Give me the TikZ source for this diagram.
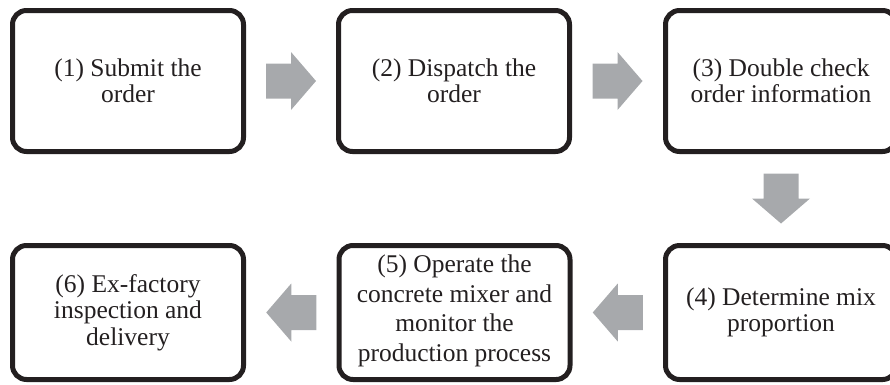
\documentclass[tikz,border=0pt]{standalone}
\usepackage{fontspec}
\setmainfont{Liberation Serif}
\usetikzlibrary{calc}
\definecolor{edge}{HTML}{231F20}
\definecolor{flow}{HTML}{A7A9AC}
\begin{document}
\begin{tikzpicture}[x=1pt,y=-1pt,
  stepbox/.style={draw=edge, line width=5pt, rounded corners=14pt,
    minimum width=231pt, minimum height=141pt, inner sep=0pt,
    align=center, text=edge, font=\fontsize{25.5}{26.5}\selectfont},
  lowbox/.style={stepbox, minimum height=134pt},
  steptext/.style={align=center, text=edge, inner sep=0pt,
    font=\fontsize{25.5}{29.5}\selectfont},
  flowfill/.style={fill=flow, draw=none}]
\useasboundingbox (0,0) rectangle (890,384);
\clip (0,0) rectangle (890,384);

% process steps
\node[stepbox] (b1) at (128,81)   {(1) Submit the\\order};
\node[stepbox] (b2) at (454,81)   {(2) Dispatch the\\order};
\node[stepbox] (b3) at (781,81)   {(3) Double check\\order information};
\node[lowbox]  (b4) at (781,312.5) {(4) Determine mix\\proportion};
\node[lowbox]  (b5) at (454.5,312.5) {};
\node[steptext] (t5) at ([yshift=1.5pt]b5.center)
  {(5) Operate the\\concrete mixer and\\monitor the\\production process};
\node[lowbox]  (b6) at (128,312.5) {(6) Ex-factory\\inspection and\\delivery};

% block arrows half way between neighbouring steps
\coordinate (m12) at ($(b1.east)!0.5!(b2.west)$);
\coordinate (m23) at ($(b2.east)!0.5!(b3.west)$);
\coordinate (m34) at ($(b3.south)!0.5!(b4.north)$);
\coordinate (m45) at ($(b4.west)!0.5!(b5.east)$);
\coordinate (m56) at ($(b5.west)!0.5!(b6.east)$);

\foreach \m/\ang in {m12/0, m23/0, m34/-90, m45/180, m56/180}{
  \fill[flowfill, shift={(\m)}, rotate=\ang]
    (-25,-17.5) -- (0,-17.5) -- (0,-29) -- (25,0) -- (0,29) -- (0,17.5)
    -- (-25,17.5) -- cycle;
}
\end{tikzpicture}
\end{document}
